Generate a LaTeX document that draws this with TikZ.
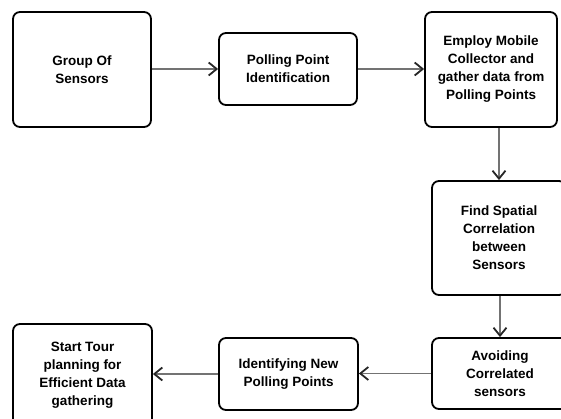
\documentclass[tikz,border=0pt]{standalone}
\usepackage{fontspec}
\setmainfont{Liberation Sans}
\usetikzlibrary{arrows.meta}

\begin{document}
\begin{tikzpicture}[x=1pt,y=-1pt,
        box/.style={draw,line width=1.8pt,rounded corners=7pt,align=center,inner sep=0pt,
            font=\bfseries\fontsize{13.5}{18}\selectfont},
        flow/.style={draw=black!55,line width=1.8pt,
            -{Straight Barb[length=8pt,width=13pt,color=black!85,line width=1.8pt]}}]
    \useasboundingbox (0,0) rectangle (561,419);
    % top row
    \node[box,minimum width=138pt,minimum height=115pt] (grp) at (82,69.5) {Group Of\\Sensors};
    \node[box,minimum width=138pt,minimum height=72pt] (poll) at (288,69) {Polling Point\\Identification};
    \node[box,minimum width=132pt,minimum height=115pt] (emp) at (491,69.5) {Employ Mobile\\Collector and\\gather data from\\Polling Points};
    % right column
    \node[box,minimum width=134pt,minimum height=114pt] (corr) at (499,238) {Find Spatial\\Correlation\\between\\Sensors};
    \node[box,minimum width=136pt,minimum height=71pt] (avd) at (500,373.5) {Avoiding\\Correlated\\sensors};
    % bottom row
    \node[box,minimum width=139pt,minimum height=72pt] (newpp) at (288.5,374) {Identifying New\\Polling Points};
    \node[box,minimum width=139pt,minimum height=102pt] (tour) at (82.5,375) {Start Tour\\planning for\\Efficient Data\\gathering};
    % connectors
    \draw[flow] (grp.east |- poll.west) -- (poll.west);
    \draw[flow] (poll.east) -- (poll.east -| emp.west);
    \draw[flow] (corr.north |- emp.south) -- (corr.north);
    \draw[flow] (corr.south -| avd.north) -- (avd.north);
    \draw[flow] (avd.west) -- (avd.west -| newpp.east);
    \draw[flow] (newpp.west) -- (newpp.west -| tour.east);
\end{tikzpicture}
\end{document}
